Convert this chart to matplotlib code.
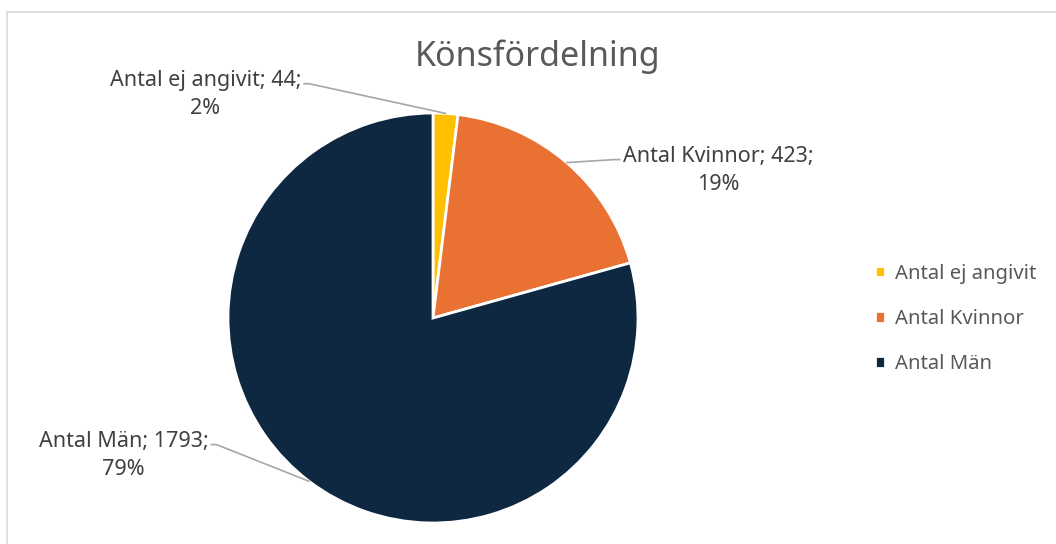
import numpy as np
import matplotlib
matplotlib.use("Agg")
from matplotlib import pyplot as plt
from matplotlib.patches import Rectangle

plt.rcParams["font.family"] = ["Noto Sans", "DejaVu Sans"]

labels = ["Antal ej angivit", "Antal Kvinnor", "Antal Män"]
counts = [44, 423, 1793]
percents = ["2%", "19%", "79%"]
colors = ["#FFC000", "#E97132", "#0E2841"]

# label text centres (data units, pie radius = 1)
label_pos = [(-1.11, 1.09), (1.39, 0.72), (-1.51, -0.67)]
label_rel = [(1, 0.72), (0, 0.72), (1, 0.72)]
label_arm = [0, 180, 0]

fig = plt.figure(figsize=(10.56, 5.44), dpi=100)
fig.patches.append(Rectangle((7 / 1056, -0.1), 1.1, (544 - 12) / 544 + 0.1, transform=fig.transFigure,
                             fill=False, edgecolor="#D9D9D9", linewidth=1.2))

ax = fig.add_axes([(433 - 205) / 1056, (544 - 318 - 205) / 544, 410 / 1056, 410 / 544])
wedges, _ = ax.pie(counts, colors=colors, startangle=90, counterclock=False,
                   wedgeprops=dict(edgecolor="white", linewidth=2))
ax.set_xlim(-1, 1)
ax.set_ylim(-1, 1)
ax.set_aspect("equal")
ax.axis("off")

total = sum(counts)
start = 90.0
for i, c in enumerate(counts):
    sweep = c / total * 360
    mid = np.deg2rad(start - sweep / 2)
    start -= sweep
    ax.annotate("{}; {};\n{}".format(labels[i], c, percents[i]),
                xy=(np.cos(mid), np.sin(mid)), xytext=label_pos[i],
                ha="center", va="center", fontsize=15.5, color="#404040",
                multialignment="center", linespacing=1.45, annotation_clip=False,
                arrowprops=dict(arrowstyle="-", color="#A6A6A6", lw=1.2,
                                shrinkA=0, shrinkB=0, relpos=label_rel[i],
                                connectionstyle="arc,angleA={},armA=8,angleB=0,armB=0,rad=0".format(label_arm[i])))

fig.text(538 / 1056, 1 - 57 / 544, "Könsfördelning", ha="center", va="center",
         fontsize=24.5, color="#595959")

fig.legend(wedges, labels, loc="center left", bbox_to_anchor=(857 / 1056, 1 - 319 / 544),
           frameon=False, fontsize=14.6, labelcolor="#595959", handlelength=0.5,
           handleheight=0.5, handletextpad=0.45, labelspacing=1.25)

plt.savefig("out.png", dpi=100)
